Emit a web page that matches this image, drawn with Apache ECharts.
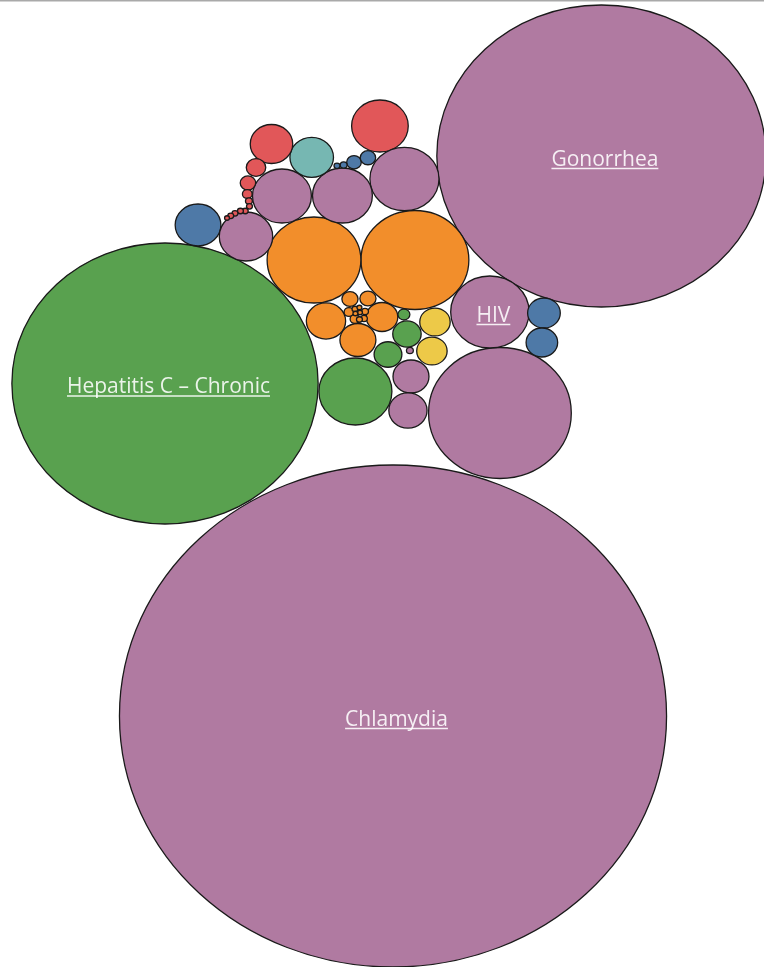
<!DOCTYPE html>
<html>
<head>
<meta charset="utf-8">
<script src="https://cdn.jsdelivr.net/npm/echarts@6/dist/echarts.min.js"></script>
<style>
html,body{margin:0;padding:0;background:#fff;}
#chart{width:764px;height:967px;}
</style>
</head>
<body>
<div id="chart"></div>
<script>
// ---- data ----
const diseases = [
  'Chlamydia','Gonorrhea','Hepatitis C – Chronic','Syphilis','HIV',
  'Campylobacteriosis','Salmonellosis','Giardiasis','Shigellosis','STEC',
  'Cryptosporidiosis','Yersiniosis','Vibriosis','Listeriosis','Cyclosporiasis',
  'Hepatitis E','Typhoid Fever','Amebiasis','Botulism','Cholera','Paratyphoid Fever',
  'Hepatitis B – Chronic','Hepatitis A','Hepatitis B – Acute','Hepatitis C – Acute',
  'Chancroid','Legionellosis','Invasive Pneumococcal Disease','Syphilis – Congenital','Genital Herpes',
  'Lyme Disease','Ehrlichiosis','Pertussis','Tuberculosis','Latent TB Infection',
  'Invasive Group A Strep','Animal Bites','Varicella','Anaplasmosis','MRSA',
  'Spotted Fever Rickettsiosis','West Nile Virus','Malaria','Dengue',
  'Mumps','H. influenzae – Invasive','Meningococcal Disease','Measles','Tetanus',
  'Rubella','Diphtheria','Acute Flaccid Myelitis','Congenital Rubella','Polio'
];
const groups = [
  'STD','STD','Hepatitis','STD','STD',
  'Enteric','Enteric','Enteric','Enteric','Enteric',
  'Enteric','Enteric','Enteric','Enteric','Enteric',
  'Enteric','Enteric','Enteric','Enteric','Enteric','Enteric',
  'Hepatitis','Hepatitis','Hepatitis','Hepatitis',
  'STD','Respiratory','Respiratory','STD','STD',
  'Vectorborne','Vectorborne','Vaccine Preventable','STD','STD',
  'STD','Zoonotic','Vaccine Preventable','Vectorborne','STD',
  'Vectorborne','Vectorborne','Vectorborne','Vectorborne',
  'Vaccine Preventable','Vaccine Preventable','Vaccine Preventable','Vaccine Preventable','Vaccine Preventable',
  'Vaccine Preventable','Vaccine Preventable','Vaccine Preventable','Vaccine Preventable','Vaccine Preventable'
];
const cases = [
  25200, 9120, 7896, 1716, 518,
  980, 740, 130, 109, 84,
  22, 22, 8, 8, 3,
  2, 4, 4, 3, 2, 2,
  449, 65, 68, 12,
  4, 78, 78, 109, 123,
  90, 84, 270, 402, 302,
  292, 160, 152, 176, 240,
  18, 20, 4, 3,
  32, 20, 8, 4, 3,
  3, 3, 3, 3, 2
];
// packed-bubble layout position of each bubble (layout units)
const layoutX = [
  360.6, 551.8, 151.4, 458.7, 449.5,
  380.7, 288.1, 299.1, 328.4, 350.5,
  321.1, 337.6, 320.2, 325.7, 325.7,
  329.8, 334.9, 333.9, 329.8, 330.3, 326.1,
  326.1, 356.0, 373.4, 370.6,
  376.1, 399.1, 396.3, 377.1, 374.3,
  499.1, 497.2, 348.6, 371.1, 314.2,
  258.7, 286.0, 249.1, 181.7, 225.7,
  324.8, 337.6, 315.3, 309.2,
  234.9, 227.5, 226.9, 228.4, 228.9,
  225.0, 220.6, 215.6, 211.7, 208.3
];
const layoutY = [
  716, 156, 383.5, 413, 312,
  260, 260, 321, 340, 317,
  299, 298.5, 312, 319, 309,
  307.5, 311.5, 318.5, 319.5, 312.5, 313.5,
  391.5, 354.5, 334, 314.5,
  350.5, 322, 351, 376.5, 410.5,
  313, 342.5, 126, 179, 195.5,
  196, 157.3, 144, 225, 236.5,
  162.3, 157.7, 165, 165.8,
  167.5, 183, 194, 201, 206.3,
  211, 211, 213.3, 215.8, 218
];
const labeled = ['Chlamydia', 'Gonorrhea', 'HIV', 'Hepatitis C – Chronic'];

// ---- styles ----
const groupColors = {
  'STD': '#B07AA1',
  'Hepatitis': '#59A14F',
  'Enteric': '#F28E2B',
  'Vaccine Preventable': '#E15759',
  'Vectorborne': '#4E79A7',
  'Zoonotic': '#76B7B2',
  'Respiratory': '#EDC948'
};
const SIZE_K = 1.5811;
const FONT = '21px "Open Sans"';
const LABEL_DX = 3.5, LABEL_DY = 4, UNDERLINE_DY = 8.5;
const measureCtx = document.createElement('canvas').getContext('2d');
function textWidth(t) { measureCtx.font = FONT; return measureCtx.measureText(t).width; }

const seriesData = diseases.map((n, i) => [layoutX[i], layoutY[i], cases[i], n, groups[i]]);

const chart = echarts.init(document.getElementById('chart'));
chart.setOption({
  animation: false,
  backgroundColor: '#ffffff',
  grid: { left: 0, right: 0, top: 0, bottom: 0 },
  xAxis: { type: 'value', min: 0, max: 701, show: false },
  yAxis: { type: 'value', min: 0, max: 967, inverse: true, show: false },
  graphic: [{
    type: 'rect', left: 0, top: 0,
    shape: { width: 764, height: 1.5 },
    style: { fill: '#a9a9a9' }, z: 100
  }],
  series: [{
    type: 'custom',
    coordinateSystem: 'cartesian2d',
    data: seriesData,
    renderItem: function (params, api) {
      const i = params.dataIndex;
      const c = api.coord([api.value(0), api.value(1)]);
      const r = SIZE_K * Math.sqrt(api.value(2));
      const rx = api.size([r, 0])[0];
      const ry = api.size([0, r])[1];
      const children = [{
        type: 'ellipse',
        shape: { cx: c[0], cy: c[1], rx: rx, ry: ry },
        style: { fill: groupColors[groups[i]], stroke: '#1a1a1a', lineWidth: 1.3 }
      }];
      const name = diseases[i];
      if (labeled.indexOf(name) >= 0) {
        const w = textWidth(name);
        const tx = c[0] + LABEL_DX;
        const ty = c[1] + LABEL_DY;
        children.push({
          type: 'text',
          style: {
            text: name, x: tx, y: ty, align: 'center', verticalAlign: 'middle',
            font: FONT, fill: 'rgba(255,255,255,0.88)'
          }
        });
        children.push({
          type: 'line',
          shape: { x1: tx - w / 2, y1: ty + UNDERLINE_DY, x2: tx + w / 2, y2: ty + UNDERLINE_DY },
          style: { stroke: 'rgba(255,255,255,0.88)', lineWidth: 1.4 }
        });
      }
      return { type: 'group', children: children };
    }
  }]
});
</script>
</body>
</html>
